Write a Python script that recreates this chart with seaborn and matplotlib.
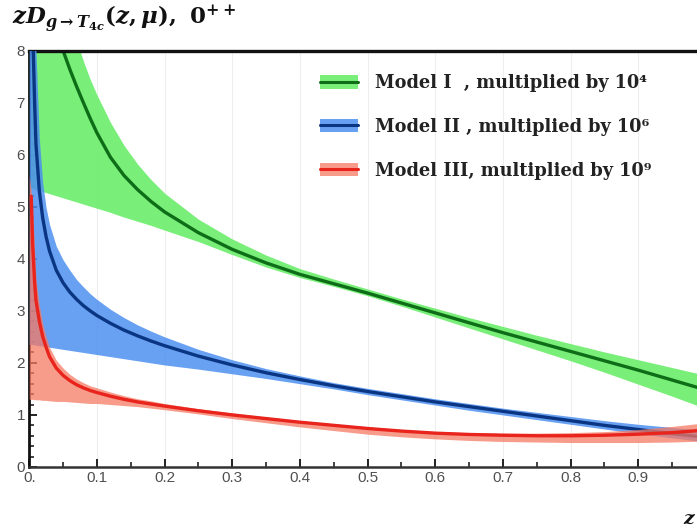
import matplotlib
matplotlib.use("Agg")
import matplotlib.pyplot as plt
from matplotlib.patches import Patch
from matplotlib.lines import Line2D
from matplotlib.ticker import MultipleLocator, FixedLocator, FixedFormatter
import seaborn as sns

# ---------------- data ----------------
# Model I (scaled by 1e4): uncertainty band and central curve
z_band_1 = [0.0, 0.02, 0.05, 0.07, 0.075, 0.08, 0.09, 0.1, 0.12, 0.14, 0.16, 0.18, 0.2,
            0.25, 0.3, 0.35, 0.4, 0.45, 0.5, 0.55, 0.6, 0.65, 0.7, 0.75, 0.8, 0.85, 0.9, 0.95, 1.0]
low_1 = [5.38, 5.29, 5.17, 5.09, 5.07, 5.05, 5.01, 4.97, 4.89, 4.80, 4.72, 4.64, 4.55,
         4.33, 4.08, 3.84, 3.64, 3.47, 3.29, 3.09, 2.88, 2.67, 2.46, 2.25, 2.04, 1.82, 1.59, 1.36, 1.12]
high_1 = [9.0, 9.0, 9.0, 8.3, 8.0, 7.8, 7.45, 7.15, 6.62, 6.18, 5.82, 5.52, 5.26,
          4.76, 4.38, 4.07, 3.81, 3.61, 3.42, 3.23, 3.05, 2.87, 2.70, 2.53, 2.37, 2.21, 2.06, 1.91, 1.76]
z_line_1 = [0.045, 0.05, 0.06, 0.07, 0.08, 0.09, 0.1, 0.12, 0.14, 0.16, 0.18, 0.2, 0.25, 0.3,
            0.35, 0.4, 0.45, 0.5, 0.55, 0.6, 0.65, 0.7, 0.75, 0.8, 0.85, 0.9, 0.95, 1.0]
mid_1 = [8.2, 8.0, 7.64, 7.31, 7.0, 6.70, 6.42, 5.95, 5.60, 5.33, 5.10, 4.90, 4.50, 4.18,
         3.92, 3.70, 3.52, 3.34, 3.15, 2.96, 2.77, 2.58, 2.40, 2.22, 2.04, 1.86, 1.67, 1.48]

# Model II (scaled by 1e6)
z_band_2 = [0.0, 0.005, 0.01, 0.015, 0.02, 0.025, 0.03, 0.04, 0.05, 0.06, 0.07, 0.08, 0.09,
            0.1, 0.12, 0.14, 0.16, 0.18, 0.2, 0.25, 0.3, 0.35, 0.4, 0.45, 0.5, 0.55, 0.6, 0.65,
            0.7, 0.75, 0.8, 0.85, 0.9, 0.95, 1.0]
low_2 = [2.36, 2.35, 2.34, 2.33, 2.32, 2.31, 2.30, 2.28, 2.26, 2.24, 2.22, 2.20, 2.18,
         2.16, 2.12, 2.08, 2.04, 2.00, 1.96, 1.88, 1.79, 1.70, 1.60, 1.50, 1.39, 1.29, 1.19, 1.09,
         1.00, 0.91, 0.82, 0.73, 0.64, 0.56, 0.48]
high_2 = [9.0, 9.0, 8.0, 6.3, 5.45, 4.98, 4.66, 4.24, 3.98, 3.78, 3.60, 3.46, 3.33,
          3.22, 3.03, 2.87, 2.73, 2.61, 2.50, 2.26, 2.06, 1.89, 1.75, 1.62, 1.51, 1.41, 1.31, 1.22,
          1.13, 1.05, 0.97, 0.89, 0.82, 0.76, 0.70]
z_line_2 = [0.004, 0.006, 0.008, 0.01, 0.015, 0.02, 0.025, 0.03, 0.04, 0.05, 0.06, 0.07, 0.08,
            0.09, 0.1, 0.12, 0.14, 0.16, 0.18, 0.2, 0.25, 0.3, 0.35, 0.4, 0.45, 0.5, 0.55, 0.6,
            0.65, 0.7, 0.75, 0.8, 0.85, 0.9, 0.95, 1.0]
mid_2 = [9.0, 8.0, 7.0, 6.2, 5.3, 4.78, 4.42, 4.15, 3.78, 3.54, 3.36, 3.22, 3.10,
         3.00, 2.91, 2.76, 2.63, 2.52, 2.42, 2.33, 2.13, 1.96, 1.81, 1.68, 1.56, 1.45, 1.35, 1.25,
         1.16, 1.07, 0.98, 0.89, 0.80, 0.72, 0.64, 0.57]

# Model III (scaled by 1e9)
z_band_3 = [0.0, 0.003, 0.005, 0.01, 0.015, 0.02, 0.025, 0.03, 0.04, 0.05, 0.06, 0.07, 0.08,
            0.09, 0.1, 0.12, 0.14, 0.16, 0.18, 0.2, 0.25, 0.3, 0.35, 0.4, 0.45, 0.5, 0.55, 0.6,
            0.65, 0.7, 0.75, 0.8, 0.85, 0.9, 0.95, 1.0]
low_3 = [1.30, 1.30, 1.30, 1.29, 1.29, 1.28, 1.28, 1.27, 1.26, 1.26, 1.25, 1.24, 1.23,
         1.22, 1.22, 1.20, 1.18, 1.16, 1.13, 1.10, 1.02, 0.93, 0.85, 0.77, 0.70, 0.63, 0.58, 0.54,
         0.51, 0.49, 0.48, 0.47, 0.47, 0.47, 0.48, 0.50]
high_3 = [5.6, 5.3, 5.0, 3.6, 3.1, 2.75, 2.5, 2.3, 2.05, 1.9, 1.78, 1.69, 1.62,
          1.56, 1.52, 1.44, 1.37, 1.31, 1.27, 1.22, 1.12, 1.04, 0.96, 0.89, 0.83, 0.77, 0.72, 0.68,
          0.66, 0.65, 0.65, 0.66, 0.68, 0.72, 0.78, 0.85]
z_line_3 = [0.003, 0.005, 0.008, 0.01, 0.015, 0.02, 0.025, 0.03, 0.04, 0.05, 0.06, 0.07, 0.08,
            0.09, 0.1, 0.12, 0.14, 0.16, 0.18, 0.2, 0.25, 0.3, 0.35, 0.4, 0.45, 0.5, 0.55, 0.6,
            0.65, 0.7, 0.75, 0.8, 0.85, 0.9, 0.95, 1.0]
mid_3 = [5.2, 4.3, 3.55, 3.2, 2.8, 2.5, 2.3, 2.12, 1.9, 1.76, 1.66, 1.58, 1.52,
         1.47, 1.43, 1.36, 1.30, 1.25, 1.21, 1.17, 1.08, 1.0, 0.93, 0.86, 0.80, 0.74, 0.69, 0.65,
         0.625, 0.61, 0.60, 0.60, 0.61, 0.63, 0.66, 0.71]

labels = ["Model I  , multiplied by 10\u2074",
          "Model II , multiplied by 10\u2076",
          "Model III, multiplied by 10\u2079"]
x_ticks = [0.0, 0.1, 0.2, 0.3, 0.4, 0.5, 0.6, 0.7, 0.8, 0.9]
x_tick_labels = ["0.", "0.1", "0.2", "0.3", "0.4", "0.5", "0.6", "0.7", "0.8", "0.9"]
y_ticks = [0, 1, 2, 3, 4, 5, 6, 7, 8]

# ---------------- styling ----------------
sns.set_theme(style="white")
plt.rcParams["font.family"] = ["Liberation Sans", "DejaVu Sans"]
plt.rcParams["mathtext.fontset"] = "custom"
plt.rcParams["mathtext.rm"] = "DejaVu Serif:bold"
plt.rcParams["mathtext.it"] = "DejaVu Serif:italic:bold"
plt.rcParams["mathtext.bf"] = "DejaVu Serif:bold"
plt.rcParams["mathtext.cal"] = "DejaVu Serif:italic:bold"

fill_colors = ["#62ec62", "#4d8ff0", "#f57a64"]
fill_alpha = [0.85, 0.85, 0.75]
line_colors = ["#0d6e17", "#0a3582", "#e8241c"]

fig = plt.figure(figsize=(6.97, 5.31), dpi=100)
W, H = 697.0, 531.0
x0, x1, y0, y1 = 29.2, 706.0, 467.0, 50.5
ax = fig.add_axes([x0 / W, 1 - y0 / H, (x1 - x0) / W, (y0 - y1) / H])

models = [
    (z_band_1, low_1, high_1, z_line_1, mid_1),
    (z_band_2, low_2, high_2, z_line_2, mid_2),
    (z_band_3, low_3, high_3, z_line_3, mid_3),
]
for i, (zb, lo, hi, zl, md) in enumerate(models):
    ax.fill_between(zb, lo, hi, color=fill_colors[i], alpha=fill_alpha[i], lw=0, zorder=2 + i)
    sns.lineplot(x=zl, y=md, color=line_colors[i], lw=2.4, ax=ax, estimator=None,
                 sort=False, zorder=2.5 + i)

ax.set_xlim(0, 1.0)
ax.set_ylim(0, 8)
ax.xaxis.set_major_locator(FixedLocator(x_ticks))
ax.xaxis.set_major_formatter(FixedFormatter(x_tick_labels))
ax.xaxis.set_minor_locator(MultipleLocator(0.05))
ax.yaxis.set_major_locator(FixedLocator(y_ticks))
ax.yaxis.set_minor_locator(MultipleLocator(0.2))
ax.tick_params(which="major", direction="in", length=6, width=1.4, color="#222222",
               labelsize=11, labelcolor="#505050", pad=3)
ax.tick_params(which="minor", direction="in", length=3.5, width=1.2, color="#222222")
ax.tick_params(axis="x", which="both", bottom=True, top=False)
ax.tick_params(axis="y", which="both", left=True, right=False)
ax.xaxis.grid(True, which="major", color="#eeeeee", lw=0.8)
ax.set_axisbelow(True)

for side in ["left", "bottom", "top"]:
    ax.spines[side].set_visible(True)
    ax.spines[side].set_color("#111111")
ax.spines["left"].set_linewidth(2.0)
ax.spines["bottom"].set_linewidth(1.8)
ax.spines["bottom"].set_color("#333333")
ax.spines["top"].set_linewidth(2.4)
ax.spines["right"].set_visible(False)
ax.set_xlabel("")
ax.set_ylabel("")

handles = [(Patch(facecolor=fill_colors[i], alpha=fill_alpha[i], edgecolor="none"),
            Line2D([], [], color=line_colors[i], lw=2.2)) for i in range(3)]
ax.legend(handles, labels, loc="upper left", bbox_to_anchor=(304 / W, 1 - 58 / H),
          bbox_transform=fig.transFigure, frameon=False,
          prop={"family": "DejaVu Serif", "weight": "bold", "size": 12.8},
          labelcolor="#222222",
          handlelength=2.15, handleheight=0.8, handletextpad=0.95, labelspacing=1.45)

fig.text(12 / W, 1 - 19 / H, r"$zD_{g\rightarrow\mathcal{T}_{4c}}(z,\mu),\ 0^{++}$",
         fontsize=16.5, ha="left", va="center", color="#111111")
fig.text(683 / W, 1 - 519 / H, r"$z$", fontsize=13.5, ha="left", va="center", color="#111111")

fig.savefig("out.png", dpi=100)
